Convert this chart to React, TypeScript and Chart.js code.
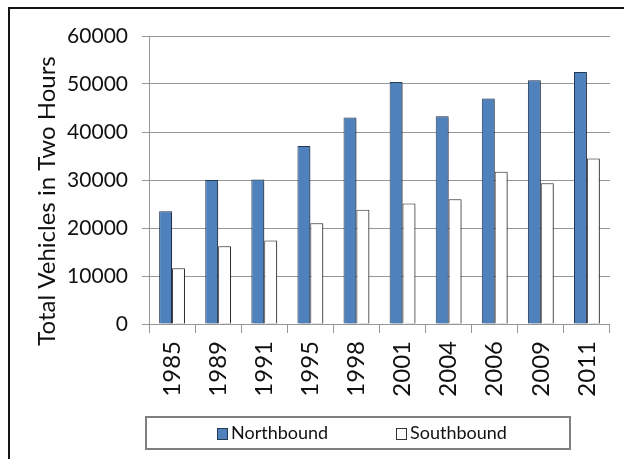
import React, { useEffect, useRef } from "react";
import { Chart, registerables } from "chart.js";

Chart.register(...registerables);

const years = ["1985", "1989", "1991", "1995", "1998", "2001", "2004", "2006", "2009", "2011"];
const northbound = [23500, 30000, 30100, 37100, 43000, 50400, 43300, 47000, 50800, 52500];
const southbound = [11600, 16200, 17400, 21000, 23800, 25100, 26000, 31700, 29300, 34500];
const yTicks = [0, 10000, 20000, 30000, 40000, 50000, 60000];
const yTitle = "Total Vehicles in Two Hours";

const FONT = "Lato, 'Open Sans', sans-serif";
const GRID = "#979797";

// Outer frame: heavy top and left rules of the surrounding box.
const framePlugin = {
  id: "frame",
  afterDraw(chart: any) {
    const { ctx } = chart;
    ctx.save();
    ctx.strokeStyle = "#151515";
    ctx.lineWidth = 2;
    ctx.beginPath();
    ctx.moveTo(9, 459);
    ctx.lineTo(9, 8);
    ctx.lineTo(624, 8);
    ctx.stroke();
    ctx.restore();
  },
};

// Soft drop shadow behind the bars.
const shadowPlugin = {
  id: "barShadow",
  beforeDatasetsDraw(chart: any) {
    const { ctx } = chart;
    ctx.save();
    ctx.shadowColor = "rgba(0,0,0,0.35)";
    ctx.shadowOffsetX = 2;
    ctx.shadowOffsetY = 1;
    ctx.shadowBlur = 2;
  },
  afterDatasetsDraw(chart: any) {
    chart.ctx.restore();
  },
};

// Rotated axis title, centred beside the plot and its labels.
const yTitlePlugin = {
  id: "yTitle",
  afterDraw(chart: any) {
    const { ctx } = chart;
    ctx.save();
    ctx.translate(47, 201);
    ctx.rotate(-Math.PI / 2);
    ctx.font = `24px ${FONT}`;
    ctx.fillStyle = "#111";
    ctx.textAlign = "center";
    ctx.textBaseline = "middle";
    ctx.fillText(yTitle, 0, 0);
    ctx.restore();
  },
};

// Boxed legend below the axis labels.
const legendBoxPlugin = {
  id: "legendBox",
  afterDraw(chart: any) {
    const { ctx } = chart;
    const items = chart.data.datasets;
    const x0 = 146, y0 = 417, w = 424, h = 32;
    const swatchX = [217, 396];
    ctx.save();
    ctx.strokeStyle = "#7f7f7f";
    ctx.lineWidth = 2;
    ctx.strokeRect(x0, y0, w, h);
    ctx.font = `18px ${FONT}`;
    ctx.textBaseline = "middle";
    ctx.textAlign = "left";
    items.forEach((ds: any, i: number) => {
      const sx = swatchX[i];
      ctx.fillStyle = ds.backgroundColor;
      ctx.fillRect(sx + 0.5, 428.5, 10, 11);
      ctx.lineWidth = 1;
      ctx.strokeStyle = ds.borderColor;
      ctx.strokeRect(sx + 0.5, 428.5, 10, 11);
      ctx.fillStyle = "#111";
      ctx.fillText(ds.label, sx + 14, 433);
    });
    ctx.restore();
  },
};

export default function App() {
  const canvasRef = useRef<HTMLCanvasElement | null>(null);

  useEffect(() => {
    if (!canvasRef.current) return;
    const chart = new Chart(canvasRef.current, {
      type: "bar",
      data: {
        labels: years,
        datasets: [
          {
            label: "Northbound",
            data: northbound,
            backgroundColor: "#4f81bd",
            borderColor: "#243a57",
            borderWidth: 1,
          },
          {
            label: "Southbound",
            data: southbound,
            backgroundColor: "#ffffff",
            borderColor: "#333333",
            borderWidth: 1,
          },
        ],
      },
      options: {
        responsive: false,
        animation: false,
        events: [],
        layout: { padding: { left: 0, right: 6, top: 36, bottom: 0 } },
        datasets: {
          bar: { categoryPercentage: 0.56, barPercentage: 1 },
        },
        plugins: {
          legend: { display: false },
          tooltip: { enabled: false },
          title: { display: false },
        },
        scales: {
          x: {
            grid: {
              offset: true,
              drawOnChartArea: false,
              drawTicks: true,
              tickLength: 9,
              color: GRID,
            },
            border: { color: GRID },
            ticks: {
              minRotation: 90,
              maxRotation: 90,
              padding: 8,
              color: "#111",
              font: { family: FONT, size: 24 },
            },
            afterFit: (s: any) => {
              s.height = 459 - 324;
            },
          },
          y: {
            min: yTicks[0],
            max: yTicks[yTicks.length - 1],
            afterBuildTicks: (s: any) => {
              s.ticks = yTicks.map((v) => ({ value: v }));
            },
            grid: { color: GRID, tickLength: 7 },
            border: { color: GRID },
            ticks: {
              padding: 14,
              color: "#111",
              font: { family: FONT, size: 21 },
              callback: (v: any) => String(v),
            },
            afterFit: (s: any) => {
              s.width = 149;
            },
          },
        },
      },
      plugins: [shadowPlugin, framePlugin, yTitlePlugin, legendBoxPlugin],
    });
    return () => chart.destroy();
  }, []);

  return (
    <div style={{ position: "fixed", left: 0, top: 0, width: 624, height: 459, background: "#fff" }}>
      <canvas ref={canvasRef} width={624} height={459} style={{ display: "block" }} />
    </div>
  );
}
